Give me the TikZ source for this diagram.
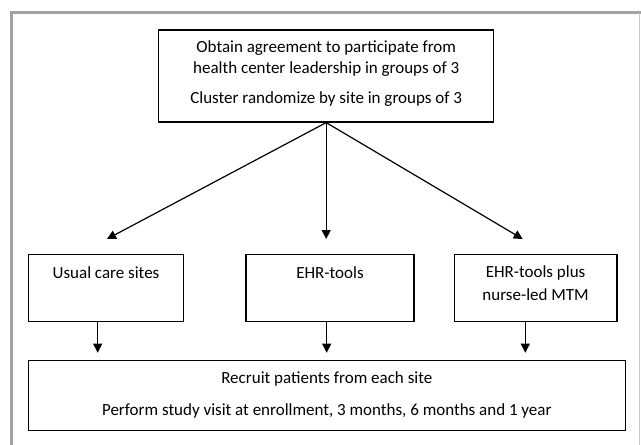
\documentclass[tikz,border=0pt]{standalone}
\usepackage{fontspec}
\setmainfont{Carlito}
\usetikzlibrary{arrows.meta}
\begin{document}
\begin{tikzpicture}[x=1pt,y=-1pt,
  box/.style={draw=black,line width=1.2pt,rectangle,inner sep=0pt,fill=white},
  txt/.style={inner sep=0pt,align=center,font=\fontsize{17}{21.5}\selectfont},
  arr/.style={line width=1.2pt,-{Triangle[length=9pt,width=9pt]}},
  frame/.style={line width=3.3pt,color=black!36}]
\useasboundingbox (0,0) rectangle (641,445);
\fill[white] (0,0) rectangle (641,445);
% frame
\draw[frame,line cap=rect] (11.7,445) -- (11.7,12.7) -- (639.5,12.7);
\draw[line width=1.5pt,color=black!22] (639.5,12.7) -- (639.5,445);
% top box
\node[box,minimum width=335pt,minimum height=92pt] (top) at (326.2,76) {};
\node[txt] (t1) at (326.2,48) {Obtain agreement to participate from};
\node[txt] (t2) at (326.2,69) {health center leadership in groups of 3};
\node[txt] (t3) at (326.2,99) {Cluster randomize by site in groups of 3};
% middle boxes
\node[box,minimum width=154.6pt,minimum height=67pt] (usual) at (106,288) {};
\node[box,minimum width=168pt,minimum height=67pt] (ehr) at (330,288) {};
\node[box,minimum width=162.7pt,minimum height=67pt] (mtm) at (535.6,288) {};
\node[txt] (u1) at (106,273) {Usual care sites};
\node[txt] (e1) at (330,273) {EHR-tools};
\node[txt] (m1) at (535.6,273) {EHR-tools plus};
\node[txt] (m2) at (535.6,295) {nurse-led MTM};
% bottom box
\node[box,minimum width=597pt,minimum height=70pt] (bottom) at (326.8,395.7) {};
\node[txt] (b1) at (326.8,379) {Recruit patients from each site};
\node[txt] (b2) at (326.8,410.5) {Perform study visit at enrollment, 3 months, 6 months and 1 year};
% arrow coordinates
\coordinate (a1) at (107,239);
\coordinate (a2) at (326.2,239);
\coordinate (a3) at (522.7,239);
\draw[arr] (top.south) -- (a1);
\draw[arr] (top.south) -- (a2);
\draw[arr] (top.south) -- (a3);
\coordinate (d1) at (97.7,352.7);
\coordinate (d2) at (326.7,352.7);
\coordinate (d3) at (525.3,352.7);
\draw[arr] (usual.south -| d1) -- (d1);
\draw[arr] (ehr.south -| d2) -- (d2);
\draw[arr] (mtm.south -| d3) -- (d3);
\end{tikzpicture}
\end{document}
